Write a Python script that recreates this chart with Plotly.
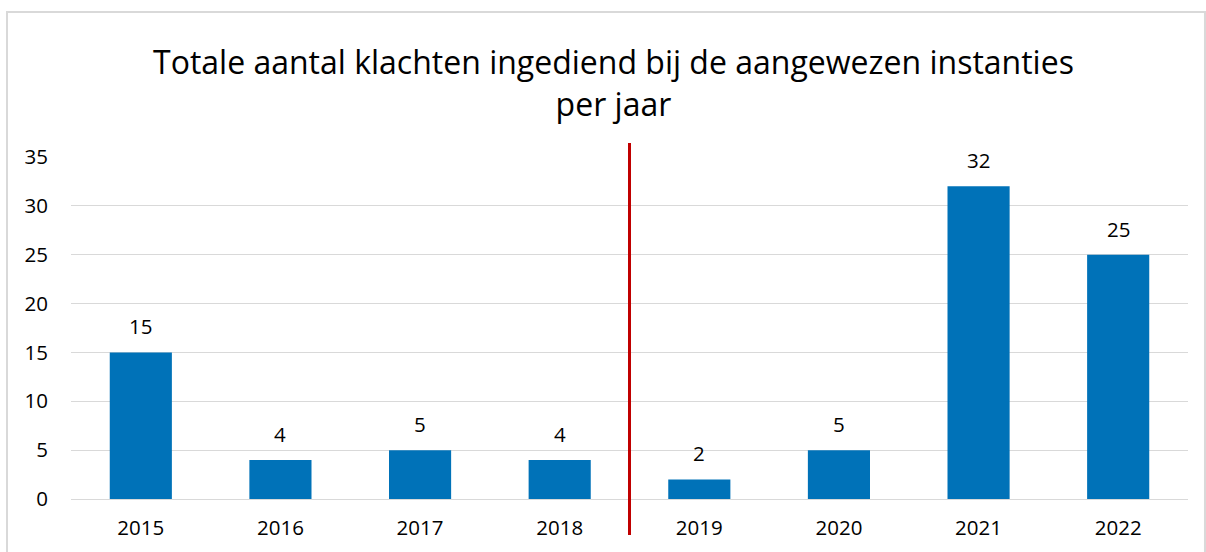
import plotly.graph_objects as go

years = ["2015", "2016", "2017", "2018", "2019", "2020", "2021", "2022"]
klachten = [15, 4, 5, 4, 2, 5, 32, 25]
y_ticks = [0, 5, 10, 15, 20, 25, 30, 35]

title_text = "Totale aantal klachten ingediend bij de aangewezen instanties<br>per jaar"
FONT = "Open Sans"
LBL = 20.5

fig = go.Figure()
fig.add_trace(go.Bar(
    x=years, y=klachten,
    marker=dict(color="#0072B8", line=dict(width=0)),
    width=0.445,
    cliponaxis=False,
))

for i, v in enumerate(klachten):
    fig.add_annotation(x=i, y=v, text=str(v), showarrow=False,
                       yanchor="middle", yshift=26,
                       font=dict(family=FONT, size=LBL, color="#000000"))

fig.add_annotation(text=title_text, xref="paper", yref="paper",
                   x=(613 - 71) / 1117, y=(499 - 82) / 342,
                   xanchor="center", yanchor="middle", showarrow=False,
                   font=dict(family=FONT, size=32, color="#000000"))

# Gray border around the chart
fig.add_shape(type="rect", xref="paper", yref="paper",
              x0=-0.0573, x1=1.0152, y0=-0.25, y1=1.424,
              line=dict(color="#d9d9d9", width=2), fillcolor="rgba(0,0,0,0)", layer="below")

# Red separator between 2018 and 2019
fig.add_shape(type="line", xref="x", yref="paper",
              x0=3.5, x1=3.5, y0=-0.105, y1=1.041,
              line=dict(color="#C00000", width=3))

fig.update_layout(
    width=1206, height=552,
    margin=dict(l=71, r=18, t=157, b=53),
    paper_bgcolor="white", plot_bgcolor="white",
    showlegend=False,
    font=dict(family=FONT, size=LBL, color="#000000"),
    xaxis=dict(type="category", range=[-0.5, len(years) - 0.5], showgrid=False,
               showline=False, ticks="", ticklabelstandoff=14,
               tickfont=dict(family=FONT, size=LBL, color="#000000")),
    yaxis=dict(range=[0, 35], tickvals=y_ticks, showgrid=True, gridcolor="#d9d9d9",
               gridwidth=1, zeroline=True, zerolinecolor="#d9d9d9", zerolinewidth=1,
               showline=False, ticks="", ticklabelstandoff=22,
               tickfont=dict(family=FONT, size=LBL, color="#000000")),
)

fig.write_html("out.html")
